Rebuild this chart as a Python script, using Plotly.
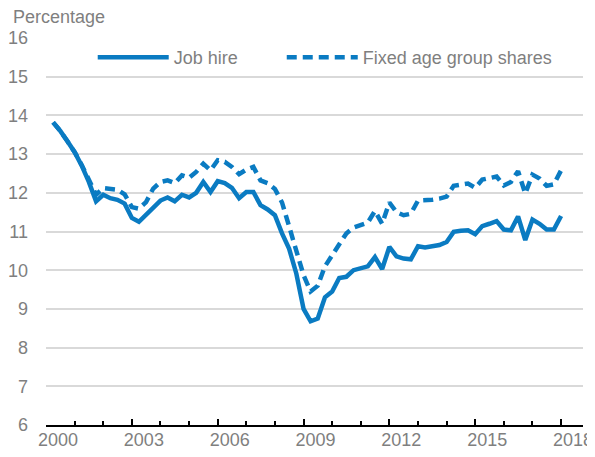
import plotly.graph_objects as go

quarters = [
    "2000-04-01", "2000-07-01", "2000-10-01",
    "2001-01-01", "2001-04-01", "2001-07-01", "2001-10-01",
    "2002-01-01", "2002-04-01", "2002-07-01", "2002-10-01",
    "2003-01-01", "2003-04-01", "2003-07-01", "2003-10-01",
    "2004-01-01", "2004-04-01", "2004-07-01", "2004-10-01",
    "2005-01-01", "2005-04-01", "2005-07-01", "2005-10-01",
    "2006-01-01", "2006-04-01", "2006-07-01", "2006-10-01",
    "2007-01-01", "2007-04-01", "2007-07-01", "2007-10-01",
    "2008-01-01", "2008-04-01", "2008-07-01", "2008-10-01",
    "2009-01-01", "2009-04-01", "2009-07-01", "2009-10-01",
    "2010-01-01", "2010-04-01", "2010-07-01", "2010-10-01",
    "2011-01-01", "2011-04-01", "2011-07-01", "2011-10-01",
    "2012-01-01", "2012-04-01", "2012-07-01", "2012-10-01",
    "2013-01-01", "2013-04-01", "2013-07-01", "2013-10-01",
    "2014-01-01", "2014-04-01", "2014-07-01", "2014-10-01",
    "2015-01-01", "2015-04-01", "2015-07-01", "2015-10-01",
    "2016-01-01", "2016-04-01", "2016-07-01", "2016-10-01",
    "2017-01-01", "2017-04-01", "2017-07-01", "2017-10-01",
    "2018-01-01",
]

job_hire = [
    13.82, 13.60, 13.33,
    13.05, 12.70, 12.28, 11.78,
    11.95, 11.86, 11.82, 11.72,
    11.35, 11.25, 11.42, 11.63,
    11.80, 11.88, 11.78, 11.95,
    11.88, 12.00, 12.28, 12.02,
    12.30, 12.25, 12.13, 11.86,
    12.02, 12.02, 11.68, 11.57,
    11.42, 10.95, 10.55, 9.91,
    9.00, 8.68, 8.75, 9.30,
    9.45, 9.80, 9.83, 10.00,
    10.05, 10.10, 10.34, 10.03,
    10.60, 10.36, 10.30, 10.28,
    10.62, 10.59, 10.62, 10.65,
    10.73, 10.99, 11.02, 11.03,
    10.93, 11.14, 11.20, 11.27,
    11.05, 11.03, 11.39, 10.78,
    11.31, 11.20, 11.05, 11.05,
    11.40,
]

fixed_age_shares = [
    13.82, 13.60, 13.33,
    13.05, 12.72, 12.35, 11.95,
    12.12, 12.11, 12.08, 11.96,
    11.63, 11.59, 11.76, 12.11,
    12.28, 12.32, 12.25, 12.45,
    12.39, 12.54, 12.75, 12.58,
    12.84, 12.80, 12.67, 12.48,
    12.60, 12.67, 12.32, 12.25,
    12.10, 11.75, 11.15, 10.55,
    9.87, 9.45, 9.60, 10.10,
    10.40, 10.70, 10.95, 11.10,
    11.17, 11.23, 11.53, 11.20,
    11.75, 11.50, 11.42, 11.46,
    11.80, 11.80, 11.82, 11.85,
    11.90, 12.18, 12.22, 12.24,
    12.13, 12.34, 12.38, 12.42,
    12.19, 12.28, 12.56, 11.98,
    12.47, 12.37, 12.18, 12.22,
    12.58,
]

year_ticks = ["2000-01-01", "2003-01-01", "2006-01-01", "2009-01-01",
              "2012-01-01", "2015-01-01", "2018-01-01"]
year_labels = ["2000", "2003", "2006", "2009", "2012", "2015", "2018"]
y_ticks = [6, 7, 8, 9, 10, 11, 12, 13, 14, 15, 16]

BLUE = "#0A7BC2"
FONT = "Liberation Sans, Arial, sans-serif"
GRAY = "#7F7F7F"
FS = 18

fig = go.Figure()
fig.add_trace(go.Scatter(
    x=quarters, y=job_hire, mode="lines", name="Job hire",
    line=dict(color=BLUE, width=4.5), legend="legend",
))
fig.add_trace(go.Scatter(
    x=quarters, y=fixed_age_shares, mode="lines", name="Fixed age group shares",
    line=dict(color=BLUE, width=4.5, dash="10px,6px"), legend="legend2",
))

legend_common = dict(
    orientation="h", y=0.997, xanchor="left", yanchor="top",
    bgcolor="rgba(0,0,0,0)", itemwidth=71,
    font=dict(family=FONT, size=FS, color=GRAY),
)

# page body has an 8px margin, so the figure is 8px smaller and shifted
fig.update_layout(
    width=587, height=449,
    margin=dict(l=38, r=12, t=30, b=32),
    paper_bgcolor="white", plot_bgcolor="white",
    font=dict(family=FONT, size=FS, color=GRAY),
    showlegend=True,
    legend=dict(x=0.087, **legend_common),
    legend2=dict(x=0.439, **legend_common),
    annotations=[dict(
        text="Percentage", xref="paper", yref="paper",
        x=-0.066, y=1.085, xanchor="left", yanchor="top",
        showarrow=False, font=dict(family=FONT, size=FS, color=GRAY),
    )],
)

fig.update_xaxes(
    type="date", range=["2000-01-01", "2018-10-08"], automargin=False,
    tickvals=year_ticks, ticktext=year_labels,
    ticks="inside", ticklen=6, tickwidth=1.5, tickcolor="black",
    ticklabelshift=12, ticklabelstandoff=-2, ticklabeloverflow="allow",
    minor=dict(dtick="M12", tick0="2000-01-01", ticks="inside", ticklen=4,
               tickwidth=1.5, tickcolor="black", showgrid=False),
    showline=True, linecolor="black", linewidth=1.5,
    showgrid=False, zeroline=False,
    tickfont=dict(family=FONT, size=FS, color=GRAY),
)
fig.update_yaxes(
    range=[6, 16], tickvals=y_ticks, automargin=False,
    showgrid=True, gridcolor="#D9D9D9", gridwidth=1.5,
    zeroline=False, showline=False, ticks="",
    ticklabelstandoff=17, ticklabeloverflow="allow",
    tickfont=dict(family=FONT, size=FS, color=GRAY),
)

fig.write_html("out.html")
